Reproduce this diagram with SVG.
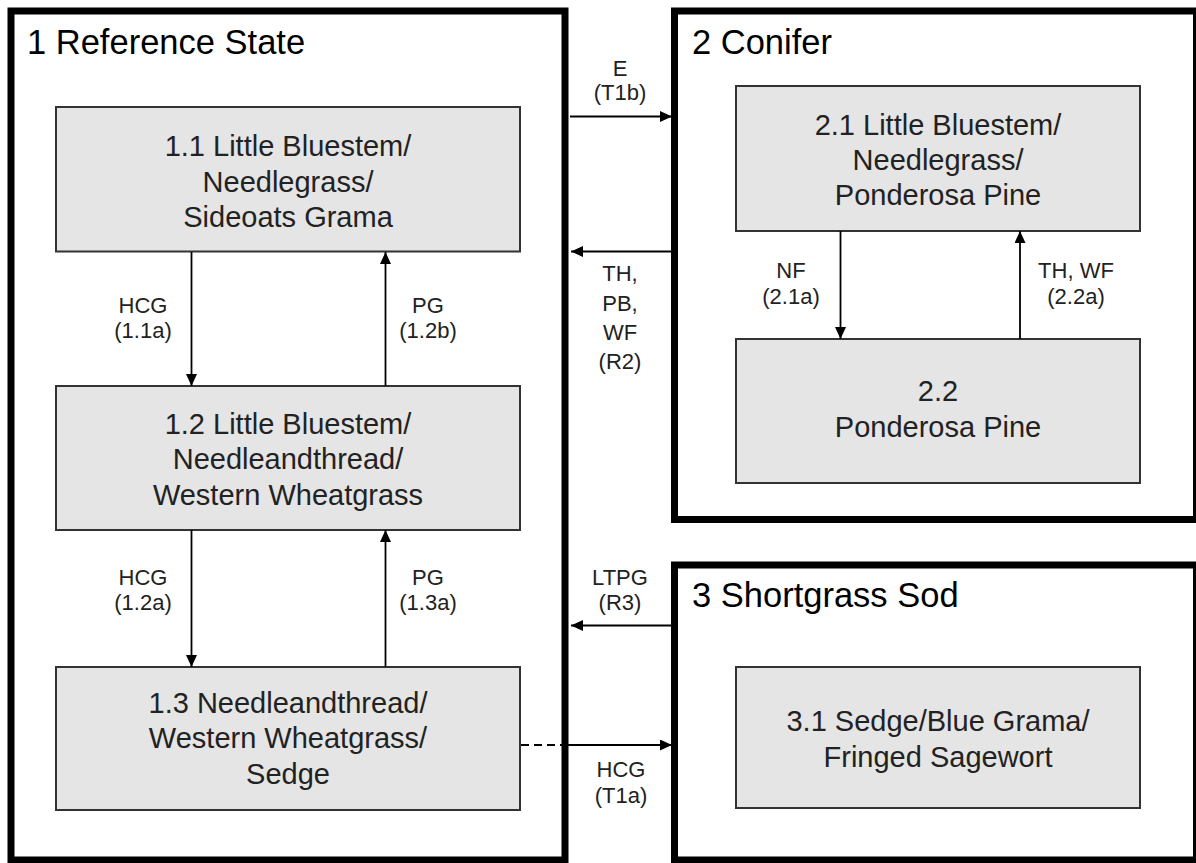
<svg xmlns="http://www.w3.org/2000/svg" width="1196" height="863" viewBox="0 0 1196 863">
<style>
.state{fill:#ffffff;stroke:#000;stroke-width:7}
.comm{fill:#e5e5e5;stroke:#333;stroke-width:2}
.title{font-family:"Liberation Sans",Arial,sans-serif;font-size:34.5px;fill:#000}
.ctext{font-family:"Liberation Sans",Arial,sans-serif;font-size:29px;fill:#222;text-anchor:middle}
.lbl{font-family:"Liberation Sans",Arial,sans-serif;font-size:22px;fill:#222;text-anchor:middle}
.conn{stroke:#000;stroke-width:1.8;fill:none}
.dash{stroke:#000;stroke-width:1.8;fill:none;stroke-dasharray:8,5}
</style>
<defs>
<marker id="ah" viewBox="0 0 12 11" refX="12" refY="5.5" markerWidth="12" markerHeight="11" markerUnits="userSpaceOnUse" orient="auto">
<path d="M0,0 L12,5.5 L0,11 Z" fill="#000"/>
</marker>
</defs>
<g id="state1">
<rect class="state" x="11" y="11" width="554" height="849"/>
<text class="title" x="27" y="54">1 Reference State</text>
</g>
<g id="state2">
<rect class="state" x="674.5" y="11" width="522" height="508.5"/>
<text class="title" x="692" y="54">2 Conifer</text>
</g>
<g id="state3">
<rect class="state" x="674.5" y="565" width="522" height="295"/>
<text class="title" x="692" y="607">3 Shortgrass Sod</text>
</g>
<g id="c11">
<rect class="comm" x="56" y="107" width="464" height="144.5"/>
<text class="ctext" x="288" y="156">1.1 Little Bluestem/</text>
<text class="ctext" x="288" y="191.5">Needlegrass/</text>
<text class="ctext" x="288" y="227">Sideoats Grama</text>
</g>
<g id="c12">
<rect class="comm" x="56" y="386" width="464" height="144"/>
<text class="ctext" x="288" y="433.5">1.2 Little Bluestem/</text>
<text class="ctext" x="288" y="469">Needleandthread/</text>
<text class="ctext" x="288" y="504.5">Western Wheatgrass</text>
</g>
<g id="c13">
<rect class="comm" x="56" y="667" width="464" height="143"/>
<text class="ctext" x="288" y="712.5">1.3 Needleandthread/</text>
<text class="ctext" x="288" y="748">Western Wheatgrass/</text>
<text class="ctext" x="288" y="783.5">Sedge</text>
</g>
<g id="c21">
<rect class="comm" x="736" y="86" width="404" height="145"/>
<text class="ctext" x="938" y="135">2.1 Little Bluestem/</text>
<text class="ctext" x="938" y="170">Needlegrass/</text>
<text class="ctext" x="938" y="205">Ponderosa Pine</text>
</g>
<g id="c22">
<rect class="comm" x="736" y="339" width="404" height="144"/>
<text class="ctext" x="938" y="401">2.2</text>
<text class="ctext" x="938" y="437">Ponderosa Pine</text>
</g>
<g id="c31">
<rect class="comm" x="736" y="667" width="404" height="141"/>
<text class="ctext" x="938" y="731">3.1 Sedge/Blue Grama/</text>
<text class="ctext" x="938" y="767">Fringed Sagewort</text>
</g>
<g id="connectors">
<line class="conn" x1="191.5" y1="252" x2="191.5" y2="386" marker-end="url(#ah)"/>
<line class="conn" x1="385.5" y1="386" x2="385.5" y2="252" marker-end="url(#ah)"/>
<line class="conn" x1="191.5" y1="530" x2="191.5" y2="667" marker-end="url(#ah)"/>
<line class="conn" x1="385.5" y1="667" x2="385.5" y2="530" marker-end="url(#ah)"/>
<line class="conn" x1="840.5" y1="231" x2="840.5" y2="339" marker-end="url(#ah)"/>
<line class="conn" x1="1020" y1="339" x2="1020" y2="231" marker-end="url(#ah)"/>
<line class="conn" x1="570" y1="116.5" x2="672" y2="116.5" marker-end="url(#ah)"/>
<line class="conn" x1="671" y1="251.5" x2="571" y2="251.5" marker-end="url(#ah)"/>
<line class="conn" x1="671" y1="625.5" x2="571" y2="625.5" marker-end="url(#ah)"/>
<line class="dash" x1="521" y1="745" x2="562" y2="745"/>
<line class="conn" x1="568" y1="745" x2="672" y2="745" marker-end="url(#ah)"/>
<g id="labels">
<text class="lbl" x="143" y="313">HCG</text>
<text class="lbl" x="143" y="338">(1.1a)</text>
<text class="lbl" x="428" y="313">PG</text>
<text class="lbl" x="428" y="338">(1.2b)</text>
<text class="lbl" x="143" y="585">HCG</text>
<text class="lbl" x="143" y="610">(1.2a)</text>
<text class="lbl" x="428" y="585">PG</text>
<text class="lbl" x="428" y="610">(1.3a)</text>
<text class="lbl" x="620" y="76">E</text>
<text class="lbl" x="620" y="100">(T1b)</text>
<text class="lbl" x="620" y="281">TH,</text>
<text class="lbl" x="620" y="310.5">PB,</text>
<text class="lbl" x="620" y="340">WF</text>
<text class="lbl" x="620" y="369">(R2)</text>
<text class="lbl" x="620" y="585">LTPG</text>
<text class="lbl" x="620" y="610">(R3)</text>
<text class="lbl" x="621" y="777">HCG</text>
<text class="lbl" x="621" y="803">(T1a)</text>
<text class="lbl" x="791" y="278">NF</text>
<text class="lbl" x="791" y="304">(2.1a)</text>
<text class="lbl" x="1076" y="278">TH, WF</text>
<text class="lbl" x="1076" y="304">(2.2a)</text>
</g>
</g>
</svg>
